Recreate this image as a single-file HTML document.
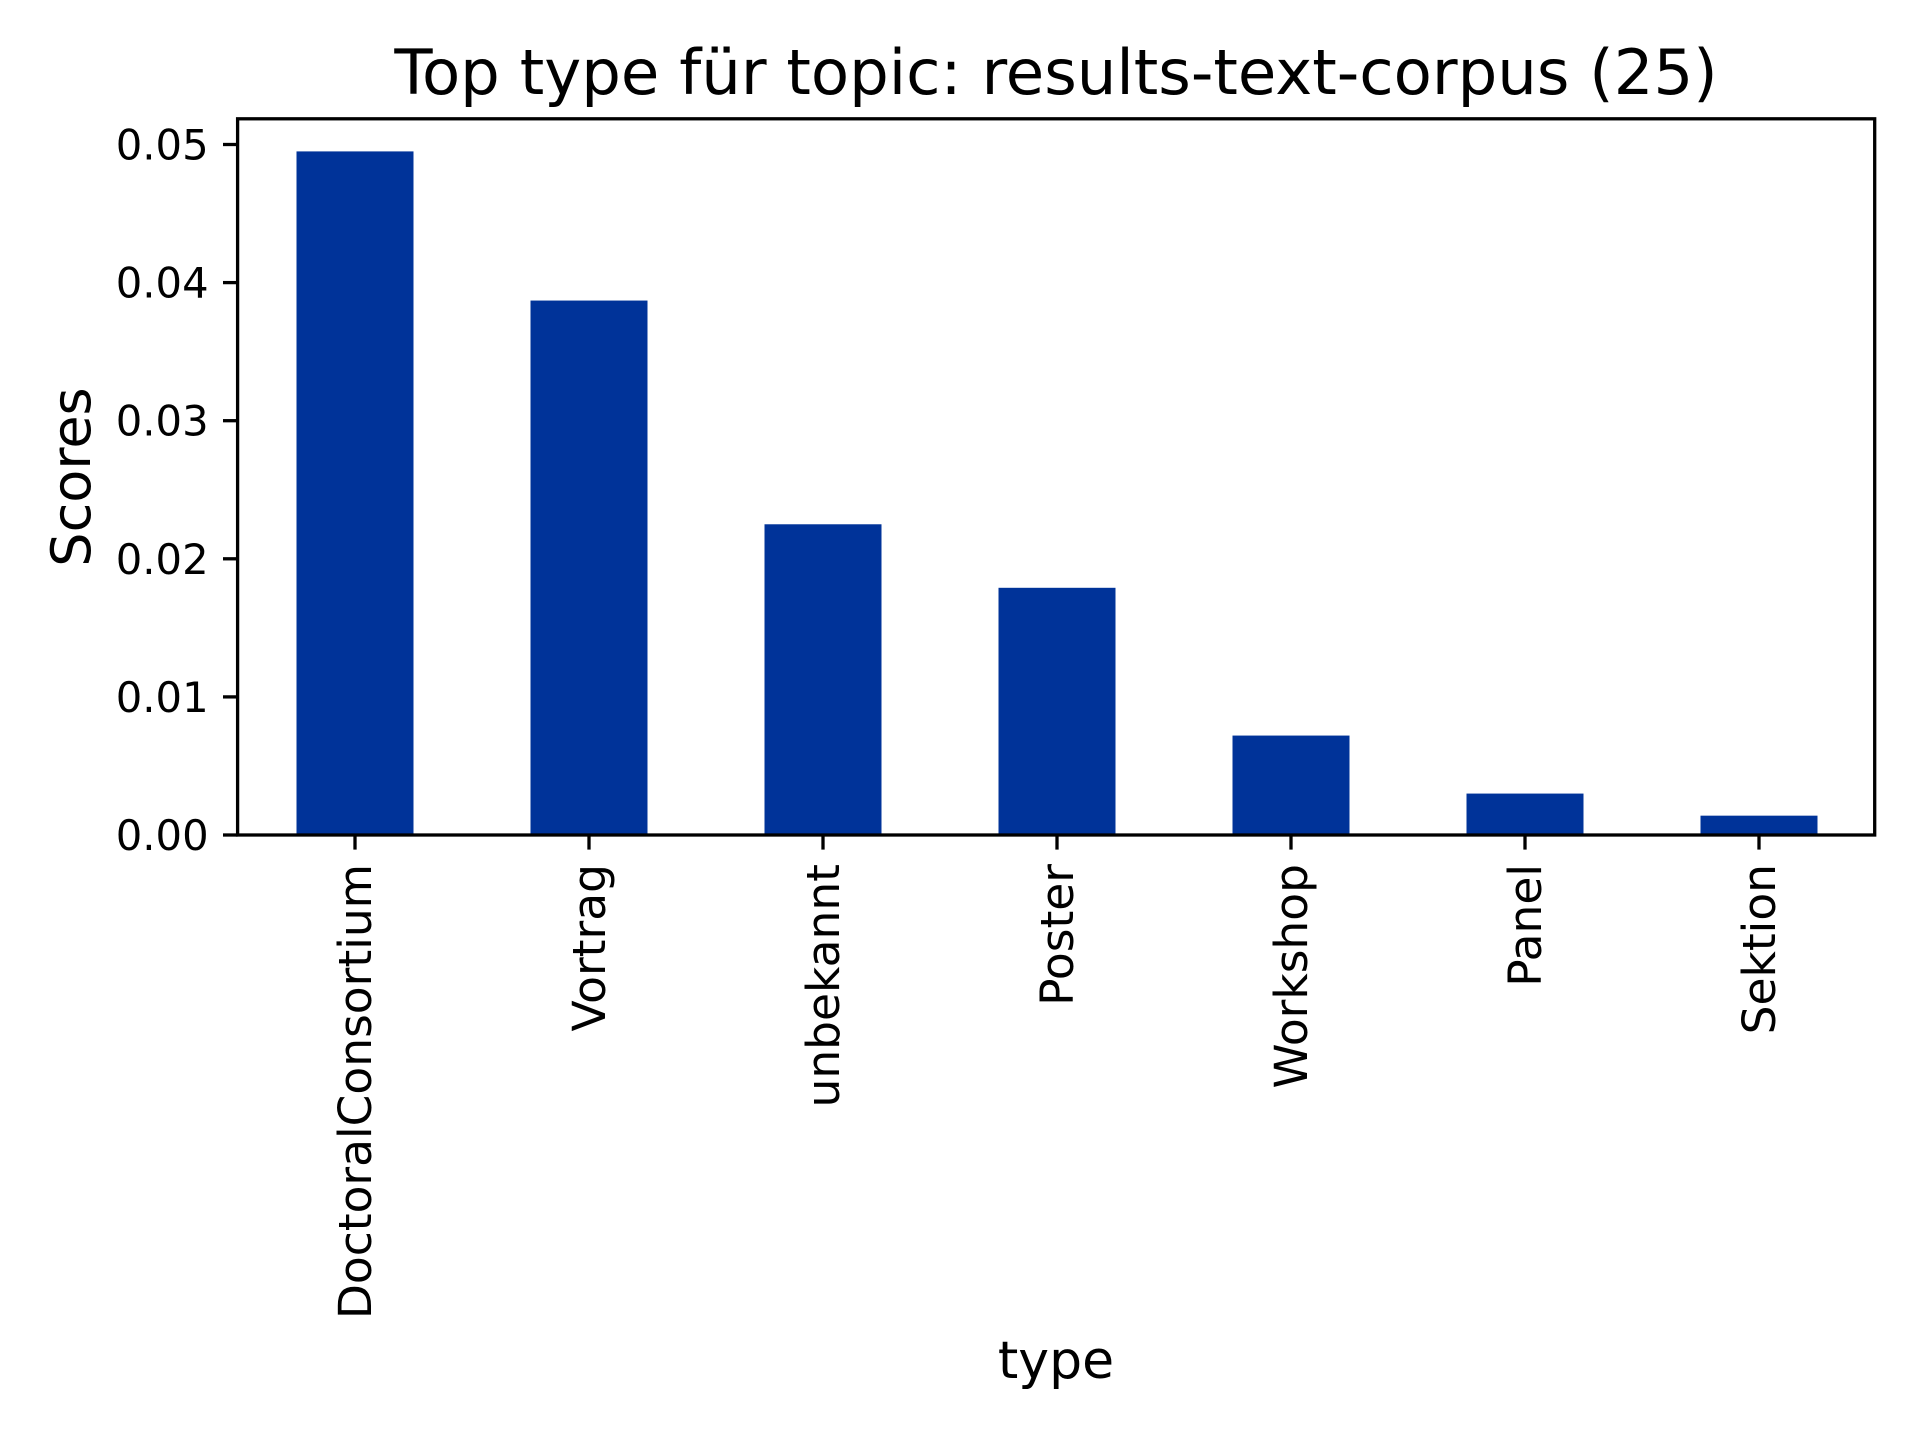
<!DOCTYPE html>
<html><head><meta charset="utf-8"><style>
html,body{margin:0;padding:0;background:#fff;}
svg{display:block;font-family:"DejaVu Sans","Liberation Sans",sans-serif;}
</style></head><body>
<svg id="chart" width="1920" height="1440" viewBox="0 0 1920 1440">
<rect x="0" y="0" width="1920" height="1440" fill="#fff"/>
<text x="1056" y="94" font-size="62.5" text-anchor="middle" fill="#000">Top type für topic: results-text-corpus (25)</text>
<g id="plot"></g>
<text transform="translate(90,477) rotate(-90)" font-size="54" text-anchor="middle" fill="#000">Scores</text>
<text x="1056" y="1378" font-size="52" text-anchor="middle" fill="#000">type</text>
</svg>
<script>
const categories = ["DoctoralConsortium","Vortrag","unbekannt","Poster","Workshop","Panel","Sektion"];
const scores = [0.0495, 0.0387, 0.0225, 0.0179, 0.0072, 0.0030, 0.0014];
const yTicks = [0, 0.01, 0.02, 0.03, 0.04, 0.05];
const yTickLabels = ["0.00","0.01","0.02","0.03","0.04","0.05"];

const NS = "http://www.w3.org/2000/svg";
const L = 237.6, R = 1874.7, T = 118.8, B = 835;
const y0 = 835, pxPerUnit = 13810;
function yScale(v){ return y0 - v * pxPerUnit; }
const step = 234, first = 355;
function xScale(i){ return first + i * step; }
const barW = 117;
const g = document.getElementById('plot');
function mk(tag, attrs){ const e = document.createElementNS(NS, tag); for (const k in attrs) e.setAttribute(k, attrs[k]); g.appendChild(e); return e; }

scores.forEach((v, i) => {
  const r = mk('rect', {x: xScale(i) - barW/2, y: yScale(v), width: barW, height: y0 - yScale(v), fill: '#003399'});
  
  
});

yTicks.forEach((v, i) => {
  const y = yScale(v);
  const t = mk('line', {x1: L - 14.6, x2: L, y1: y, y2: y, stroke: '#000', 'stroke-width': 3.3});
  
  
  const lb = mk('text', {x: L - 29, y: y + 15, 'font-size': 41.7, 'text-anchor': 'end', fill: '#000'});
  lb.textContent = yTickLabels[i];
  
  
});

categories.forEach((c, i) => {
  const x = xScale(i);
  const t = mk('line', {x1: x, x2: x, y1: B, y2: B + 14.6, stroke: '#000', 'stroke-width': 3.3});
  
  
  const lb = mk('text', {transform: 'translate(' + (x + 16) + ',' + (B + 29) + ') rotate(-90)', 'font-size': 45.5, 'text-anchor': 'end', fill: '#000'});
  lb.textContent = c;
  
  
});

const frame = mk('rect', {x: L, y: T, width: R - L, height: B - T, fill: 'none', stroke: '#000', 'stroke-width': 3.3});


</script>
</body></html>
